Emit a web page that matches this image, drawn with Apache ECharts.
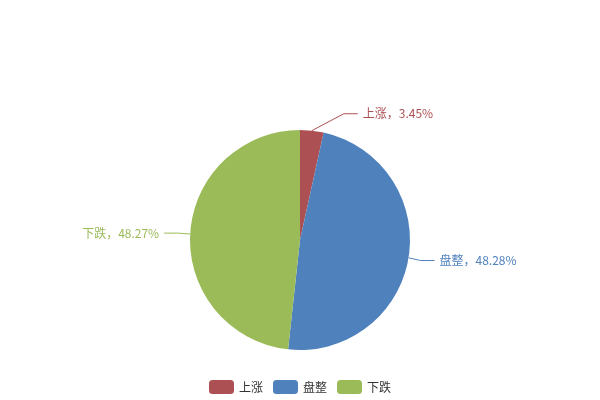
<!DOCTYPE html>
<html><head><meta charset="utf-8">
<script src="https://cdn.jsdelivr.net/npm/echarts@6/dist/echarts.min.js"></script>
<style>html,body{margin:0;padding:0;background:#fff}#c{width:600px;height:400px}</style>
</head><body><div id="c"></div>
<script>
const categories = ['上涨', '盘整', '下跌'];
const values = [1, 14, 14];
const colors = ['#ad5053', '#4f81bd', '#9bbb59'];
const chart = echarts.init(document.getElementById('c'));
const CENTER = [0.5, 0.6], RADIUS = 0.55, LEN = 17, LEN2 = 14, GAP = 5;
function labelLayout(p) {
  const w = chart.getWidth(), h = chart.getHeight();
  const cx = w * CENTER[0], cy = h * CENTER[1], r = Math.min(w, h) / 2 * RADIUS;
  const total = values.reduce((a, b) => a + b, 0);
  let before = 0;
  for (let k = 0; k < p.dataIndex; k++) before += values[k];
  const ang = (before + values[p.dataIndex] / 2) / total * Math.PI * 2 - Math.PI / 2;
  const ex = cx + r * Math.cos(ang), ey = cy + r * Math.sin(ang);
  const dy = (r + LEN) * Math.sin(ang);
  const y = cy + dy;
  const dir = Math.cos(ang) >= 0 ? 1 : -1;
  const R = r + LEN + LEN2;
  const dx = Math.sqrt(R * R - dy * dy);
  const tx = cx + dir * dx;
  const end = tx - dir * GAP;
  const elbow = end - dir * LEN2;
  return {
    x: tx, y: y,
    align: dir > 0 ? 'left' : 'right',
    verticalAlign: 'middle',
    labelLinePoints: [[ex, ey], [elbow, y], [end, y]]
  };
}
chart.setOption({
  animation: false,
  color: colors,
  legend: {
    bottom: 1,
    left: 'center',
    itemWidth: 25,
    itemHeight: 14,
    itemGap: 10,
    textStyle: { color: '#333', fontSize: 12, fontFamily: 'Noto Sans CJK SC' },
    data: categories
  },
  series: [{
    type: 'pie',
    center: ['50%', '60%'],
    radius: '55%',
    startAngle: 90,
    data: categories.map((n, i) => ({ name: n, value: values[i] })),
    label: {
      formatter: '{b}，{d}%',
      fontSize: 12,
      fontFamily: 'Noto Sans CJK SC',
      color: 'inherit'
    },
    labelLine: { length: LEN, length2: LEN2, smooth: false },
    labelLayout: labelLayout
  }]
});
</script></body></html>
